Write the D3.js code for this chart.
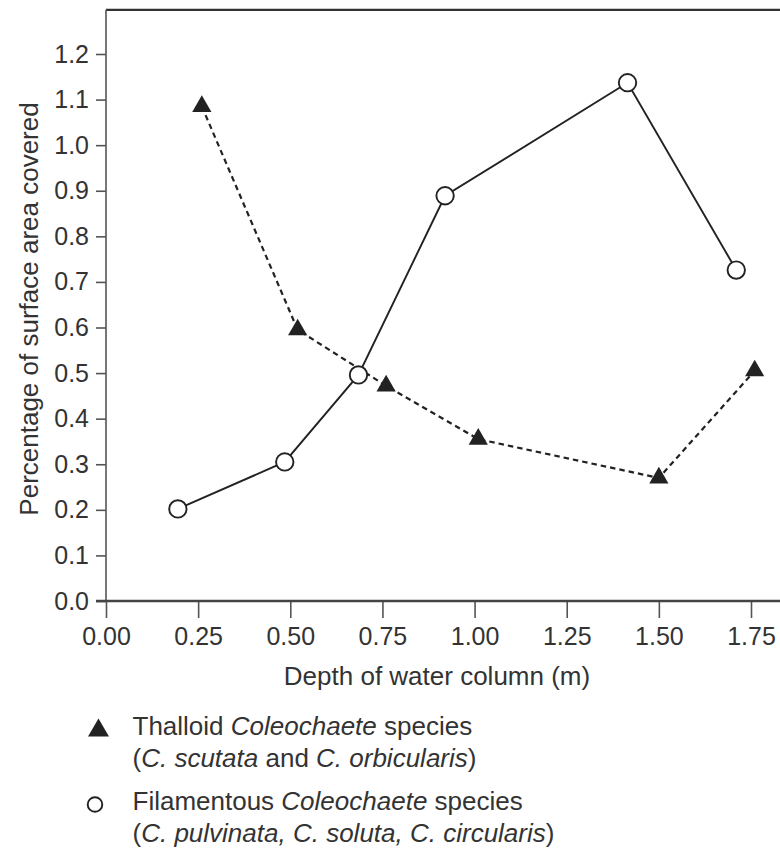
<!DOCTYPE html>
<html>
<head>
<meta charset="utf-8">
<script src="https://cdn.jsdelivr.net/npm/d3@7"></script>
<style>
  html, body { margin: 0; padding: 0; background: #fff; }
  svg text { font-family: "Liberation Sans", Arial, Helvetica, sans-serif; fill: #333; }
</style>
</head>
<body>
<div id="chart"></div>
<script>
// Thalloid Coleochaete (filled triangles, dashed line)
var thalloidDepth = [0.26, 0.52, 0.76, 1.01, 1.50, 1.76];
var thalloidCover = [1.085, 0.595, 0.472, 0.355, 0.27, 0.505];

// Filamentous Coleochaete (open circles, solid line)
var filamentDepth = [0.195, 0.485, 0.685, 0.92, 1.415, 1.71];
var filamentCover = [0.202, 0.305, 0.496, 0.889, 1.137, 0.726];

var xTicks = [0, 0.25, 0.5, 0.75, 1.0, 1.25, 1.5, 1.75];
var yTicks = [0, 0.1, 0.2, 0.3, 0.4, 0.5, 0.6, 0.7, 0.8, 0.9, 1.0, 1.1, 1.2];

var xTitle = 'Depth of water column (m)';
var yTitle = 'Percentage of surface area covered';

// legend lines: [text, italic?] pieces
var legendThalloid = [
  [['Thalloid ', false], ['Coleochaete', true], [' species', false]],
  [['(', false], ['C. scutata', true], [' and ', false], ['C. orbicularis', true], [')', false]]
];
var legendFilament = [
  [['Filamentous ', false], ['Coleochaete', true], [' species', false]],
  [['(', false], ['C. pulvinata, C. soluta, C. circularis', true], [')', false]]
];

(function () {
  'use strict';

  var width = 780, height = 848;
  var ink = '#222';

  var svg = d3.select('#chart').append('svg')
    .attr('width', width)
    .attr('height', height);

  var x = d3.scaleLinear().domain([0, 1.75]).range([106, 751]);
  var y = d3.scaleLinear().domain([0, 1.2]).range([601, 54]);

  var plotRight = 780;
  var plotTop = y(1.297);

  // frame: top border + axes lines
  svg.append('line')
    .attr('x1', x(0)).attr('x2', plotRight)
    .attr('y1', plotTop).attr('y2', plotTop)
    .attr('stroke', '#333').attr('stroke-width', 2.2);

  svg.append('line')
    .attr('x1', x(0)).attr('x2', x(0))
    .attr('y1', plotTop).attr('y2', y(0))
    .attr('stroke', '#555').attr('stroke-width', 1.6);

  // y axis
  var yAxis = svg.append('g')
    .attr('transform', 'translate(' + x(0) + ',0)')
    .call(d3.axisLeft(y).tickValues(yTicks).tickFormat(d3.format('.1f')).tickSize(10).tickPadding(7));
  yAxis.select('.domain').remove();
  yAxis.selectAll('.tick line').attr('stroke', '#555').attr('stroke-width', 1.6);
  yAxis.selectAll('.tick text').attr('font-size', 25).attr('font-family', null).attr('fill', '#333');

  // x axis
  var xAxis = svg.append('g')
    .attr('transform', 'translate(0,' + y(0) + ')')
    .call(d3.axisBottom(x).tickValues(xTicks).tickFormat(d3.format('.2f')).tickSize(17));
  xAxis.select('.domain').remove();
  xAxis.selectAll('.tick line').attr('stroke', '#555').attr('stroke-width', 1.6);
  xAxis.selectAll('.tick text')
    .attr('font-size', 25).attr('font-family', null).attr('fill', '#333')
    .attr('y', 44).attr('dy', null);

  svg.append('line')
    .attr('x1', x(0) - 10).attr('x2', plotRight)
    .attr('y1', y(0)).attr('y2', y(0))
    .attr('stroke', '#444').attr('stroke-width', 2.6);

  // axis titles
  svg.append('text')
    .attr('x', 437).attr('y', 685)
    .attr('text-anchor', 'middle')
    .attr('font-size', 26)
    .text(xTitle);

  svg.append('text')
    .attr('transform', 'translate(38,309) rotate(-90)')
    .attr('text-anchor', 'middle')
    .attr('font-size', 26)
    .text(yTitle);

  // series
  var thalloid = thalloidDepth.map(function (d, i) { return [d, thalloidCover[i]]; });
  var filament = filamentDepth.map(function (d, i) { return [d, filamentCover[i]]; });

  var line = d3.line()
    .x(function (d) { return x(d[0]); })
    .y(function (d) { return y(d[1]); });

  svg.append('path')
    .datum(thalloid)
    .attr('d', line)
    .attr('fill', 'none')
    .attr('stroke', ink)
    .attr('stroke-width', 2.2)
    .attr('stroke-dasharray', '5.5,4');

  svg.append('path')
    .datum(filament)
    .attr('d', line)
    .attr('fill', 'none')
    .attr('stroke', ink)
    .attr('stroke-width', 1.9);

  var tri = d3.symbol().type(d3.symbolTriangle).size(160);

  svg.append('g').selectAll('path')
    .data(thalloid)
    .join('path')
    .attr('transform', function (d) { return 'translate(' + x(d[0]) + ',' + y(d[1]) + ')'; })
    .attr('d', tri)
    .attr('fill', ink);

  svg.append('g').selectAll('circle')
    .data(filament)
    .join('circle')
    .attr('cx', function (d) { return x(d[0]); })
    .attr('cy', function (d) { return y(d[1]); })
    .attr('r', 8.7)
    .attr('fill', '#fff')
    .attr('stroke', ink)
    .attr('stroke-width', 1.9);

  // legend
  function legendText(lines, baselines) {
    lines.forEach(function (parts, i) {
      var t = svg.append('text')
        .attr('x', 132.5).attr('y', baselines[i])
        .attr('font-size', 26)
        .attr('xml:space', 'preserve');
      parts.forEach(function (p) {
        t.append('tspan')
          .attr('font-style', p[1] ? 'italic' : 'normal')
          .text(p[0]);
      });
    });
  }

  svg.append('path')
    .attr('transform', 'translate(98.5,730.5)')
    .attr('d', d3.symbol().type(d3.symbolTriangle).size(190))
    .attr('fill', ink);
  legendText(legendThalloid, [735, 767]);

  svg.append('circle')
    .attr('cx', 95).attr('cy', 804.5).attr('r', 7.3)
    .attr('fill', 'none')
    .attr('stroke', ink)
    .attr('stroke-width', 1.9);
  legendText(legendFilament, [810, 842]);
})();
</script>
</body>
</html>
